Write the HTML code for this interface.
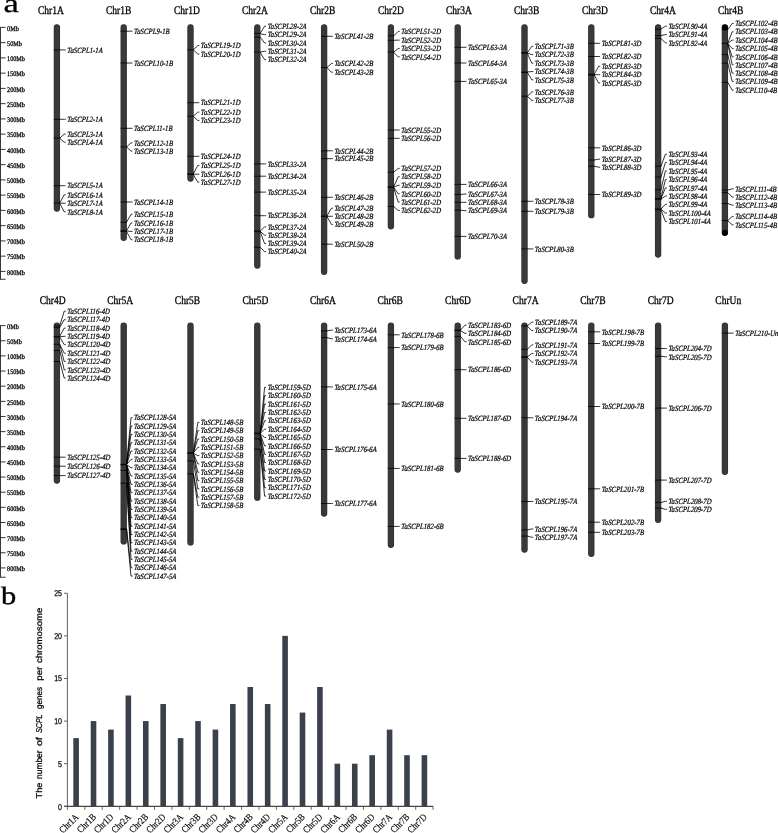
<!DOCTYPE html>
<html lang="en"><head><meta charset="utf-8"><title>Chromosomal distribution of TaSCPL genes</title>
<style>
html,body{margin:0;padding:0;background:#fff}
body{width:778px;height:833px;overflow:hidden}
svg{display:block}
text{font-family:"Liberation Serif","Times New Roman",serif;fill:#000;text-rendering:geometricPrecision}
.g{font-size:8px;font-style:italic;stroke:#000;stroke-width:0.22px}
.c{font-size:11.6px;stroke:#000;stroke-width:0.3px}
.m{font-size:7px;stroke:#000;stroke-width:0.28px}
.p{font-size:27px;stroke:#000;stroke-width:0.25px}
.s{font-family:"Liberation Sans",Arial,sans-serif}
.k{stroke:#000;stroke-width:0.8;fill:none}
.o{stroke:#2b2b2b;stroke-width:6.3px;stroke-linecap:round;fill:none}
.i{stroke:#3b3937;stroke-width:5.3px;stroke-linecap:round;fill:none}
.x{font-size:9.8px;stroke:#000;stroke-width:0.15px}
</style></head><body>
<svg width="778" height="833" viewBox="0 0 778 833">
<rect width="778" height="833" fill="#fff"/>
<text class="p" style="font-size:26px" transform="translate(3.5,12.3) scale(1.33,1)">a</text>
<text class="p" style="font-size:25px;stroke-width:0.4px" transform="translate(0.9,603.6) scale(1.22,1)">b</text>
<g stroke="#222" stroke-width="0.9" fill="none">
<path d="M0.5 27.4 V279.29"/>
<path d="M0 279.29 H5.6"/>
<path d="M0 27.4 H5.6 M0 42.65 H5.6 M0 57.9 H5.6 M0 73.15 H5.6 M0 88.4 H5.6 M0 103.65 H5.6 M0 118.9 H5.6 M0 134.15 H5.6 M0 149.4 H5.6 M0 164.65 H5.6 M0 179.9 H5.6 M0 195.15 H5.6 M0 210.4 H5.6 M0 225.65 H5.6 M0 240.9 H5.6 M0 256.15 H5.6 M0 271.4 H5.6"/>
</g>
<text class="m" transform="translate(7.1,30.65) scale(0.88,1)">0Mb</text>
<text class="m" transform="translate(7.1,45.9) scale(0.88,1)">50Mb</text>
<text class="m" transform="translate(7.1,61.15) scale(0.88,1)">100Mb</text>
<text class="m" transform="translate(7.1,76.4) scale(0.88,1)">150Mb</text>
<text class="m" transform="translate(7.1,91.65) scale(0.88,1)">200Mb</text>
<text class="m" transform="translate(7.1,106.9) scale(0.88,1)">250Mb</text>
<text class="m" transform="translate(7.1,122.15) scale(0.88,1)">300Mb</text>
<text class="m" transform="translate(7.1,137.4) scale(0.88,1)">350Mb</text>
<text class="m" transform="translate(7.1,152.65) scale(0.88,1)">400Mb</text>
<text class="m" transform="translate(7.1,167.9) scale(0.88,1)">450Mb</text>
<text class="m" transform="translate(7.1,183.15) scale(0.88,1)">500Mb</text>
<text class="m" transform="translate(7.1,198.4) scale(0.88,1)">550Mb</text>
<text class="m" transform="translate(7.1,213.65) scale(0.88,1)">600Mb</text>
<text class="m" transform="translate(7.1,228.9) scale(0.88,1)">650Mb</text>
<text class="m" transform="translate(7.1,244.15) scale(0.88,1)">700Mb</text>
<text class="m" transform="translate(7.1,259.4) scale(0.88,1)">750Mb</text>
<text class="m" transform="translate(7.1,274.65) scale(0.88,1)">800Mb</text>
<g stroke="#222" stroke-width="0.9" fill="none">
<path d="M0.5 325.6 V577.26"/>
<path d="M0 577.26 H5.6"/>
<path d="M0 325.6 H5.6 M0 340.75 H5.6 M0 355.89 H5.6 M0 371.04 H5.6 M0 386.18 H5.6 M0 401.33 H5.6 M0 416.47 H5.6 M0 431.62 H5.6 M0 446.76 H5.6 M0 461.91 H5.6 M0 477.05 H5.6 M0 492.2 H5.6 M0 507.34 H5.6 M0 522.49 H5.6 M0 537.63 H5.6 M0 552.78 H5.6 M0 567.92 H5.6"/>
</g>
<text class="m" transform="translate(7.1,328.85) scale(0.88,1)">0Mb</text>
<text class="m" transform="translate(7.1,344) scale(0.88,1)">50Mb</text>
<text class="m" transform="translate(7.1,359.14) scale(0.88,1)">100Mb</text>
<text class="m" transform="translate(7.1,374.29) scale(0.88,1)">150Mb</text>
<text class="m" transform="translate(7.1,389.43) scale(0.88,1)">200Mb</text>
<text class="m" transform="translate(7.1,404.58) scale(0.88,1)">250Mb</text>
<text class="m" transform="translate(7.1,419.72) scale(0.88,1)">300Mb</text>
<text class="m" transform="translate(7.1,434.87) scale(0.88,1)">350Mb</text>
<text class="m" transform="translate(7.1,450.01) scale(0.88,1)">400Mb</text>
<text class="m" transform="translate(7.1,465.16) scale(0.88,1)">450Mb</text>
<text class="m" transform="translate(7.1,480.3) scale(0.88,1)">500Mb</text>
<text class="m" transform="translate(7.1,495.45) scale(0.88,1)">550Mb</text>
<text class="m" transform="translate(7.1,510.59) scale(0.88,1)">600Mb</text>
<text class="m" transform="translate(7.1,525.74) scale(0.88,1)">650Mb</text>
<text class="m" transform="translate(7.1,540.88) scale(0.88,1)">700Mb</text>
<text class="m" transform="translate(7.1,556.03) scale(0.88,1)">750Mb</text>
<text class="m" transform="translate(7.1,571.17) scale(0.88,1)">800Mb</text>
<!-- Chr1A -->
<text class="c" transform="translate(37.9,13.6) scale(0.82,1)">Chr1A</text>
<path class="o" d="M56.9 27.4 V208.6"/><path class="i" d="M56.9 27.4 V208.6"/>
<path class="k" d="M53.75 49.9H60.05M59.75 49.9L64.2 49.9H65.7M53.75 119.3H60.05M59.75 119.3L64.2 119.3H65.7M53.75 138.1H60.05M59.75 138.1L64.2 134.1H65.7M59.75 138.2L64.2 142.3H65.7M53.75 185.7H60.05M59.75 185.7L64.2 185.7H65.7M53.75 203H60.05M59.75 203L64.2 194.8H65.7M59.75 203.2L64.2 203.2H65.7M59.75 203.4L64.2 211.8H65.7"/>
<text class="g" transform="translate(67,52.6) scale(0.85,1) skewX(-5)">TaSCPL1-1A</text>
<text class="g" transform="translate(67,122) scale(0.85,1) skewX(-5)">TaSCPL2-1A</text>
<text class="g" transform="translate(67,136.8) scale(0.85,1) skewX(-5)">TaSCPL3-1A</text>
<text class="g" transform="translate(67,145) scale(0.85,1) skewX(-5)">TaSCPL4-1A</text>
<text class="g" transform="translate(67,188.4) scale(0.85,1) skewX(-5)">TaSCPL5-1A</text>
<text class="g" transform="translate(67,197.5) scale(0.85,1) skewX(-5)">TaSCPL6-1A</text>
<text class="g" transform="translate(67,205.9) scale(0.85,1) skewX(-5)">TaSCPL7-1A</text>
<text class="g" transform="translate(67,214.5) scale(0.85,1) skewX(-5)">TaSCPL8-1A</text>
<!-- Chr1B -->
<text class="c" transform="translate(105.9,13.6) scale(0.82,1)">Chr1B</text>
<path class="o" d="M123.7 27.4 V237.82"/><path class="i" d="M123.7 27.4 V237.82"/>
<path class="k" d="M120.55 31.2H126.85M126.55 31.2L131 31.2H132.5M120.55 63H126.85M126.55 63L131 63H132.5M120.55 128.3H126.85M126.55 128.3L131 128.3H132.5M120.55 146.9H126.85M126.55 146.9L131 142.8H132.5M126.55 147L131 151.1H132.5M120.55 202H126.85M126.55 202L131 202H132.5M120.55 222.3H126.85M126.55 222.3L131 214.3H132.5M120.55 230.7H126.85M126.55 230.7L131 223H132.5M126.55 231L131 231.4H132.5M120.55 231.4H126.85M126.55 231.4L131 239.7H132.5"/>
<text class="g" transform="translate(133.8,33.9) scale(0.85,1) skewX(-5)">TaSCPL9-1B</text>
<text class="g" transform="translate(133.8,65.7) scale(0.85,1) skewX(-5)">TaSCPL10-1B</text>
<text class="g" transform="translate(133.8,131) scale(0.85,1) skewX(-5)">TaSCPL11-1B</text>
<text class="g" transform="translate(133.8,145.5) scale(0.85,1) skewX(-5)">TaSCPL12-1B</text>
<text class="g" transform="translate(133.8,153.8) scale(0.85,1) skewX(-5)">TaSCPL13-1B</text>
<text class="g" transform="translate(133.8,204.7) scale(0.85,1) skewX(-5)">TaSCPL14-1B</text>
<text class="g" transform="translate(133.8,217) scale(0.85,1) skewX(-5)">TaSCPL15-1B</text>
<text class="g" transform="translate(133.8,225.7) scale(0.85,1) skewX(-5)">TaSCPL16-1B</text>
<text class="g" transform="translate(133.8,234.1) scale(0.85,1) skewX(-5)">TaSCPL17-1B</text>
<text class="g" transform="translate(133.8,242.4) scale(0.85,1) skewX(-5)">TaSCPL18-1B</text>
<!-- Chr1D -->
<text class="c" transform="translate(173.9,13.6) scale(0.82,1)">Chr1D</text>
<path class="o" d="M190.5 27.4 V178.53"/><path class="i" d="M190.5 27.4 V178.53"/>
<path class="k" d="M187.35 49.8H193.65M193.35 49.8L197.8 45.6H199.3M193.35 49.9L197.8 54H199.3M187.35 102.7H193.65M193.35 102.7L197.8 102.7H199.3M187.35 116.3H193.65M193.35 116.3L197.8 112.1H199.3M193.35 116.4L197.8 120.5H199.3M187.35 156.3H193.65M193.35 156.3L197.8 156.3H199.3M187.35 173.9H193.65M193.35 173.9L197.8 165.4H199.3M193.35 174.2L197.8 174.2H199.3M187.35 174.5H193.65M193.35 174.5L197.8 182.2H199.3"/>
<text class="g" transform="translate(200.6,48.3) scale(0.85,1) skewX(-5)">TaSCPL19-1D</text>
<text class="g" transform="translate(200.6,56.7) scale(0.85,1) skewX(-5)">TaSCPL20-1D</text>
<text class="g" transform="translate(200.6,105.4) scale(0.85,1) skewX(-5)">TaSCPL21-1D</text>
<text class="g" transform="translate(200.6,114.8) scale(0.85,1) skewX(-5)">TaSCPL22-1D</text>
<text class="g" transform="translate(200.6,123.2) scale(0.85,1) skewX(-5)">TaSCPL23-1D</text>
<text class="g" transform="translate(200.6,159) scale(0.85,1) skewX(-5)">TaSCPL24-1D</text>
<text class="g" transform="translate(200.6,168.1) scale(0.85,1) skewX(-5)">TaSCPL25-1D</text>
<text class="g" transform="translate(200.6,176.9) scale(0.85,1) skewX(-5)">TaSCPL26-1D</text>
<text class="g" transform="translate(200.6,184.9) scale(0.85,1) skewX(-5)">TaSCPL27-1D</text>
<!-- Chr2A -->
<text class="c" transform="translate(241.9,13.6) scale(0.82,1)">Chr2A</text>
<path class="o" d="M257.3 27.4 V265.54"/><path class="i" d="M257.3 27.4 V265.54"/>
<path class="k" d="M254.15 33.4H260.45M260.15 33.4L264.6 26.2H266.1M260.15 33.8L264.6 34.6H266.1M254.15 37.1H260.45M260.15 37.1L264.6 42.9H266.1M254.15 52.1H260.45M260.15 52.1L264.6 51.3H266.1M260.15 52.5L264.6 59.6H266.1M254.15 163.9H260.45M260.15 163.9L264.6 163.9H266.1M254.15 176.2H260.45M260.15 176.2L264.6 176.2H266.1M254.15 192.1H260.45M260.15 192.1L264.6 192.1H266.1M254.15 215.7H260.45M260.15 215.7L264.6 215.7H266.1M254.15 231H260.45M260.15 231L264.6 226.9H266.1M260.15 231.4L264.6 235.2H266.1M254.15 231.7H260.45M260.15 231.7L264.6 243.6H266.1M254.15 247.3H260.45M260.15 247.3L264.6 251.6H266.1"/>
<text class="g" transform="translate(267.4,28.9) scale(0.85,1) skewX(-5)">TaSCPL28-2A</text>
<text class="g" transform="translate(267.4,37.3) scale(0.85,1) skewX(-5)">TaSCPL29-2A</text>
<text class="g" transform="translate(267.4,45.6) scale(0.85,1) skewX(-5)">TaSCPL30-2A</text>
<text class="g" transform="translate(267.4,54) scale(0.85,1) skewX(-5)">TaSCPL31-2A</text>
<text class="g" transform="translate(267.4,62.3) scale(0.85,1) skewX(-5)">TaSCPL32-2A</text>
<text class="g" transform="translate(267.4,166.6) scale(0.85,1) skewX(-5)">TaSCPL33-2A</text>
<text class="g" transform="translate(267.4,178.9) scale(0.85,1) skewX(-5)">TaSCPL34-2A</text>
<text class="g" transform="translate(267.4,194.8) scale(0.85,1) skewX(-5)">TaSCPL35-2A</text>
<text class="g" transform="translate(267.4,218.4) scale(0.85,1) skewX(-5)">TaSCPL36-2A</text>
<text class="g" transform="translate(267.4,229.6) scale(0.85,1) skewX(-5)">TaSCPL37-2A</text>
<text class="g" transform="translate(267.4,237.9) scale(0.85,1) skewX(-5)">TaSCPL38-2A</text>
<text class="g" transform="translate(267.4,246.3) scale(0.85,1) skewX(-5)">TaSCPL39-2A</text>
<text class="g" transform="translate(267.4,254.3) scale(0.85,1) skewX(-5)">TaSCPL40-2A</text>
<!-- Chr2B -->
<text class="c" transform="translate(309.9,13.6) scale(0.82,1)">Chr2B</text>
<path class="o" d="M324.1 27.4 V271.8"/><path class="i" d="M324.1 27.4 V271.8"/>
<path class="k" d="M320.95 36.3H327.25M326.95 36.3L331.4 36.3H332.9M320.95 67.5H327.25M326.95 67.5L331.4 63.5H332.9M326.95 67.6L331.4 72.2H332.9M320.95 150.8H327.25M326.95 150.8L331.4 150.8H332.9M320.95 158.7H327.25M326.95 158.7L331.4 158.7H332.9M320.95 197.3H327.25M326.95 197.3L331.4 197.3H332.9M320.95 216H327.25M326.95 216L331.4 208.2H332.9M326.95 216.3L331.4 216.3H332.9M320.95 216.5H327.25M326.95 216.5L331.4 224.4H332.9M320.95 244.2H327.25M326.95 244.2L331.4 244.2H332.9"/>
<text class="g" transform="translate(334.2,39) scale(0.85,1) skewX(-5)">TaSCPL41-2B</text>
<text class="g" transform="translate(334.2,66.2) scale(0.85,1) skewX(-5)">TaSCPL42-2B</text>
<text class="g" transform="translate(334.2,74.9) scale(0.85,1) skewX(-5)">TaSCPL43-2B</text>
<text class="g" transform="translate(334.2,153.5) scale(0.85,1) skewX(-5)">TaSCPL44-2B</text>
<text class="g" transform="translate(334.2,161.4) scale(0.85,1) skewX(-5)">TaSCPL45-2B</text>
<text class="g" transform="translate(334.2,200) scale(0.85,1) skewX(-5)">TaSCPL46-2B</text>
<text class="g" transform="translate(334.2,210.9) scale(0.85,1) skewX(-5)">TaSCPL47-2B</text>
<text class="g" transform="translate(334.2,219) scale(0.85,1) skewX(-5)">TaSCPL48-2B</text>
<text class="g" transform="translate(334.2,227.1) scale(0.85,1) skewX(-5)">TaSCPL49-2B</text>
<text class="g" transform="translate(334.2,246.9) scale(0.85,1) skewX(-5)">TaSCPL50-2B</text>
<!-- Chr2D -->
<text class="c" transform="translate(377.9,13.6) scale(0.82,1)">Chr2D</text>
<path class="o" d="M390.9 27.4 V226.23"/><path class="i" d="M390.9 27.4 V226.23"/>
<path class="k" d="M387.75 35.9H394.05M393.75 35.9L398.2 31.4H399.7M387.75 40.3H394.05M393.75 40.3L398.2 40.1H399.7M387.75 52.1H394.05M393.75 52.1L398.2 48.45H399.7M393.75 52.5L398.2 56.8H399.7M387.75 130H394.05M393.75 130L398.2 130H399.7M387.75 138.3H394.05M393.75 138.3L398.2 138.3H399.7M387.75 172.2H394.05M393.75 172.2L398.2 168.4H399.7M387.75 186.8H394.05M393.75 186.8L398.2 176.7H399.7M393.75 187.1L398.2 185.3H399.7M387.75 187.4H394.05M393.75 187.4L398.2 193.8H399.7M393.75 187.8L398.2 202.1H399.7M387.75 206.5H394.05M393.75 206.5L398.2 210.5H399.7"/>
<text class="g" transform="translate(401,34.1) scale(0.85,1) skewX(-5)">TaSCPL51-2D</text>
<text class="g" transform="translate(401,42.8) scale(0.85,1) skewX(-5)">TaSCPL52-2D</text>
<text class="g" transform="translate(401,51.15) scale(0.85,1) skewX(-5)">TaSCPL53-2D</text>
<text class="g" transform="translate(401,59.5) scale(0.85,1) skewX(-5)">TaSCPL54-2D</text>
<text class="g" transform="translate(401,132.7) scale(0.85,1) skewX(-5)">TaSCPL55-2D</text>
<text class="g" transform="translate(401,141) scale(0.85,1) skewX(-5)">TaSCPL56-2D</text>
<text class="g" transform="translate(401,171.1) scale(0.85,1) skewX(-5)">TaSCPL57-2D</text>
<text class="g" transform="translate(401,179.4) scale(0.85,1) skewX(-5)">TaSCPL58-2D</text>
<text class="g" transform="translate(401,188) scale(0.85,1) skewX(-5)">TaSCPL59-2D</text>
<text class="g" transform="translate(401,196.5) scale(0.85,1) skewX(-5)">TaSCPL60-2D</text>
<text class="g" transform="translate(401,204.8) scale(0.85,1) skewX(-5)">TaSCPL61-2D</text>
<text class="g" transform="translate(401,213.2) scale(0.85,1) skewX(-5)">TaSCPL62-2D</text>
<!-- Chr3A -->
<text class="c" transform="translate(445.9,13.6) scale(0.82,1)">Chr3A</text>
<path class="o" d="M457.7 27.4 V256.39"/><path class="i" d="M457.7 27.4 V256.39"/>
<path class="k" d="M454.55 47.3H460.85M460.55 47.3L465 47.3H466.5M454.55 63H460.85M460.55 63L465 63H466.5M454.55 81.4H460.85M460.55 81.4L465 81.4H466.5M454.55 184.4H460.85M460.55 184.4L465 184.4H466.5M454.55 194.5H460.85M460.55 194.5L465 194H466.5M454.55 202.3H460.85M460.55 202.3L465 202.3H466.5M454.55 210.2H460.85M460.55 210.2L465 210.7H466.5M454.55 236.4H460.85M460.55 236.4L465 236.4H466.5"/>
<text class="g" transform="translate(467.8,50) scale(0.85,1) skewX(-5)">TaSCPL63-3A</text>
<text class="g" transform="translate(467.8,65.7) scale(0.85,1) skewX(-5)">TaSCPL64-3A</text>
<text class="g" transform="translate(467.8,84.1) scale(0.85,1) skewX(-5)">TaSCPL65-3A</text>
<text class="g" transform="translate(467.8,187.1) scale(0.85,1) skewX(-5)">TaSCPL66-3A</text>
<text class="g" transform="translate(467.8,196.7) scale(0.85,1) skewX(-5)">TaSCPL67-3A</text>
<text class="g" transform="translate(467.8,205) scale(0.85,1) skewX(-5)">TaSCPL68-3A</text>
<text class="g" transform="translate(467.8,213.4) scale(0.85,1) skewX(-5)">TaSCPL69-3A</text>
<text class="g" transform="translate(467.8,239.1) scale(0.85,1) skewX(-5)">TaSCPL70-3A</text>
<!-- Chr3B -->
<text class="c" transform="translate(513.9,13.6) scale(0.82,1)">Chr3B</text>
<path class="o" d="M524.5 27.4 V280.79"/><path class="i" d="M524.5 27.4 V280.79"/>
<path class="k" d="M521.35 52.6H527.65M527.35 52.6L531.8 46.3H533.3M521.35 53.1H527.65M527.35 53.1L531.8 54.6H533.3M527.35 53.5L531.8 63.2H533.3M521.35 72H527.65M527.35 72L531.8 71.5H533.3M521.35 72.5H527.65M527.35 72.5L531.8 79.9H533.3M521.35 96.2H527.65M527.35 96.2L531.8 91.9H533.3M527.35 96.4L531.8 100.4H533.3M521.35 201.3H527.65M527.35 201.3L531.8 201.3H533.3M521.35 211.3H527.65M527.35 211.3L531.8 211.3H533.3M521.35 248.9H527.65M527.35 248.9L531.8 248.9H533.3"/>
<text class="g" transform="translate(534.6,49) scale(0.85,1) skewX(-5)">TaSCPL71-3B</text>
<text class="g" transform="translate(534.6,57.3) scale(0.85,1) skewX(-5)">TaSCPL72-3B</text>
<text class="g" transform="translate(534.6,65.9) scale(0.85,1) skewX(-5)">TaSCPL73-3B</text>
<text class="g" transform="translate(534.6,74.2) scale(0.85,1) skewX(-5)">TaSCPL74-3B</text>
<text class="g" transform="translate(534.6,82.6) scale(0.85,1) skewX(-5)">TaSCPL75-3B</text>
<text class="g" transform="translate(534.6,94.6) scale(0.85,1) skewX(-5)">TaSCPL76-3B</text>
<text class="g" transform="translate(534.6,103.1) scale(0.85,1) skewX(-5)">TaSCPL77-3B</text>
<text class="g" transform="translate(534.6,204) scale(0.85,1) skewX(-5)">TaSCPL78-3B</text>
<text class="g" transform="translate(534.6,214) scale(0.85,1) skewX(-5)">TaSCPL79-3B</text>
<text class="g" transform="translate(534.6,251.6) scale(0.85,1) skewX(-5)">TaSCPL80-3B</text>
<!-- Chr3D -->
<text class="c" transform="translate(581.9,13.6) scale(0.82,1)">Chr3D</text>
<path class="o" d="M591.3 27.4 V215.16"/><path class="i" d="M591.3 27.4 V215.16"/>
<path class="k" d="M588.15 43.3H594.45M594.15 43.3L598.6 43.3H600.1M588.15 56.5H594.45M594.15 56.5L598.6 56.5H600.1M588.15 74.35H594.45M594.15 74.35L598.6 66.3H600.1M594.15 74.7L598.6 74.7H600.1M588.15 75H594.45M594.15 75L598.6 83H600.1M588.15 147.8H594.45M594.15 147.8L598.6 147.8H600.1M588.15 160H594.45M594.15 160L598.6 159.2H600.1M588.15 166.2H594.45M594.15 166.2L598.6 167.2H600.1M588.15 194.5H594.45M594.15 194.5L598.6 194.5H600.1"/>
<text class="g" transform="translate(601.4,46) scale(0.85,1) skewX(-5)">TaSCPL81-3D</text>
<text class="g" transform="translate(601.4,59.2) scale(0.85,1) skewX(-5)">TaSCPL82-3D</text>
<text class="g" transform="translate(601.4,69) scale(0.85,1) skewX(-5)">TaSCPL83-3D</text>
<text class="g" transform="translate(601.4,77.4) scale(0.85,1) skewX(-5)">TaSCPL84-3D</text>
<text class="g" transform="translate(601.4,85.7) scale(0.85,1) skewX(-5)">TaSCPL85-3D</text>
<text class="g" transform="translate(601.4,150.5) scale(0.85,1) skewX(-5)">TaSCPL86-3D</text>
<text class="g" transform="translate(601.4,161.9) scale(0.85,1) skewX(-5)">TaSCPL87-3D</text>
<text class="g" transform="translate(601.4,169.9) scale(0.85,1) skewX(-5)">TaSCPL88-3D</text>
<text class="g" transform="translate(601.4,197.2) scale(0.85,1) skewX(-5)">TaSCPL89-3D</text>
<!-- Chr4A -->
<text class="c" transform="translate(649.9,13.6) scale(0.82,1)">Chr4A</text>
<path class="o" d="M658.1 27.4 V254.5"/><path class="i" d="M658.1 27.4 V254.5"/>
<path class="k" d="M654.95 29.2H661.25M660.95 29.2L665.4 26.2H666.9M654.95 35.6H661.25M660.95 35.6L665.4 34.6H666.9M654.95 38.4H661.25M660.95 38.4L665.4 42.9H666.9M654.95 166.2H661.25M660.95 166.2L665.4 154.2H666.9M654.95 177.1H661.25M660.95 177.1L665.4 162.5H666.9M654.95 189.8H661.25M660.95 189.8L665.4 170.9H666.9M654.95 198.5H661.25M660.95 198.5L665.4 179.6H666.9M660.95 198.8L665.4 187.9H666.9M654.95 199.3H661.25M660.95 199.3L665.4 196H666.9M654.95 209H661.25M660.95 209L665.4 204.3H666.9M660.95 209.3L665.4 213H666.9M654.95 209.7H661.25M660.95 209.7L665.4 221.5H666.9"/>
<text class="g" transform="translate(668.2,28.9) scale(0.85,1) skewX(-5)">TaSCPL90-4A</text>
<text class="g" transform="translate(668.2,37.3) scale(0.85,1) skewX(-5)">TaSCPL91-4A</text>
<text class="g" transform="translate(668.2,45.6) scale(0.85,1) skewX(-5)">TaSCPL92-4A</text>
<text class="g" transform="translate(668.2,156.9) scale(0.85,1) skewX(-5)">TaSCPL93-4A</text>
<text class="g" transform="translate(668.2,165.2) scale(0.85,1) skewX(-5)">TaSCPL94-4A</text>
<text class="g" transform="translate(668.2,173.6) scale(0.85,1) skewX(-5)">TaSCPL95-4A</text>
<text class="g" transform="translate(668.2,182.3) scale(0.85,1) skewX(-5)">TaSCPL96-4A</text>
<text class="g" transform="translate(668.2,190.6) scale(0.85,1) skewX(-5)">TaSCPL97-4A</text>
<text class="g" transform="translate(668.2,198.7) scale(0.85,1) skewX(-5)">TaSCPL98-4A</text>
<text class="g" transform="translate(668.2,207) scale(0.85,1) skewX(-5)">TaSCPL99-4A</text>
<text class="g" transform="translate(668.2,215.7) scale(0.85,1) skewX(-5)">TaSCPL100-4A</text>
<text class="g" transform="translate(668.2,224.2) scale(0.85,1) skewX(-5)">TaSCPL101-4A</text>
<!-- Chr4B -->
<text class="c" transform="translate(717.9,13.6) scale(0.82,1)">Chr4B</text>
<path class="o" d="M724.9 27.4 V232.85"/><path class="i" d="M724.9 27.4 V232.85"/>
<circle cx="724.9" cy="27.5" r="3.05" fill="#000"/>
<circle cx="724.9" cy="232.75" r="3.05" fill="#000"/>
<path class="k" d="M721.75 29.7H728.05M727.75 29.7L732.2 23.4H733.7M721.75 43.3H728.05M727.75 43.3L732.2 31.75H733.7M727.75 43.4L732.2 40.1H733.7M727.75 43.5L732.2 48.45H733.7M727.75 43.6L732.2 56.8H733.7M727.75 43.7L732.2 64.8H733.7M721.75 54.5H728.05M727.75 54.5L732.2 73.2H733.7M721.75 63.2H728.05M727.75 63.2L732.2 81.5H733.7M721.75 82.4H728.05M727.75 82.4L732.2 90.2H733.7M721.75 190.1H728.05M727.75 190.1L732.2 188.8H733.7M721.75 192.6H728.05M727.75 192.6L732.2 197.1H733.7M721.75 203.5H728.05M727.75 203.5L732.2 205.15H733.7M721.75 220.5H728.05M727.75 220.5L732.2 216.5H733.7M727.75 220.7L732.2 224.9H733.7"/>
<text class="g" transform="translate(735,26.1) scale(0.85,1) skewX(-5)">TaSCPL102-4B</text>
<text class="g" transform="translate(735,34.45) scale(0.85,1) skewX(-5)">TaSCPL103-4B</text>
<text class="g" transform="translate(735,42.8) scale(0.85,1) skewX(-5)">TaSCPL104-4B</text>
<text class="g" transform="translate(735,51.15) scale(0.85,1) skewX(-5)">TaSCPL105-4B</text>
<text class="g" transform="translate(735,59.5) scale(0.85,1) skewX(-5)">TaSCPL106-4B</text>
<text class="g" transform="translate(735,67.5) scale(0.85,1) skewX(-5)">TaSCPL107-4B</text>
<text class="g" transform="translate(735,75.9) scale(0.85,1) skewX(-5)">TaSCPL108-4B</text>
<text class="g" transform="translate(735,84.2) scale(0.85,1) skewX(-5)">TaSCPL109-4B</text>
<text class="g" transform="translate(735,92.9) scale(0.85,1) skewX(-5)">TaSCPL110-4B</text>
<text class="g" transform="translate(735,191.5) scale(0.85,1) skewX(-5)">TaSCPL111-4B</text>
<text class="g" transform="translate(735,199.8) scale(0.85,1) skewX(-5)">TaSCPL112-4B</text>
<text class="g" transform="translate(735,207.85) scale(0.85,1) skewX(-5)">TaSCPL113-4B</text>
<text class="g" transform="translate(735,219.2) scale(0.85,1) skewX(-5)">TaSCPL114-4B</text>
<text class="g" transform="translate(735,227.6) scale(0.85,1) skewX(-5)">TaSCPL115-4B</text>
<!-- Chr4D -->
<text class="c" transform="translate(39.7,303.5) scale(0.82,1)">Chr4D</text>
<path class="o" d="M56.9 325.6 V480.61"/><path class="i" d="M56.9 325.6 V480.61"/>
<path class="k" d="M53.75 325.9H60.05M59.75 325.9L64.2 311.2H65.7M53.75 327.6H60.05M59.75 327.6L64.2 319.7H65.7M53.75 336.4H60.05M59.75 336.4L64.2 328.1H65.7M59.75 336.8L64.2 336.3H65.7M53.75 337.1H60.05M59.75 337.1L64.2 344.6H65.7M53.75 344.3H60.05M59.75 344.3L64.2 353.2H65.7M59.75 344.6L64.2 361.5H65.7M53.75 350.5H60.05M59.75 350.5L64.2 369.9H65.7M53.75 361.5H60.05M59.75 361.5L64.2 378H65.7M53.75 457.2H60.05M59.75 457.2L64.2 457.2H65.7M53.75 466.2H60.05M59.75 466.2L64.2 466.2H65.7M53.75 475.6H60.05M59.75 475.6L64.2 475.6H65.7"/>
<text class="g" transform="translate(67,313.9) scale(0.85,1) skewX(-5)">TaSCPL116-4D</text>
<text class="g" transform="translate(67,322.4) scale(0.85,1) skewX(-5)">TaSCPL117-4D</text>
<text class="g" transform="translate(67,330.8) scale(0.85,1) skewX(-5)">TaSCPL118-4D</text>
<text class="g" transform="translate(67,339) scale(0.85,1) skewX(-5)">TaSCPL119-4D</text>
<text class="g" transform="translate(67,347.3) scale(0.85,1) skewX(-5)">TaSCPL120-4D</text>
<text class="g" transform="translate(67,355.9) scale(0.85,1) skewX(-5)">TaSCPL121-4D</text>
<text class="g" transform="translate(67,364.2) scale(0.85,1) skewX(-5)">TaSCPL122-4D</text>
<text class="g" transform="translate(67,372.6) scale(0.85,1) skewX(-5)">TaSCPL123-4D</text>
<text class="g" transform="translate(67,380.7) scale(0.85,1) skewX(-5)">TaSCPL124-4D</text>
<text class="g" transform="translate(67,459.9) scale(0.85,1) skewX(-5)">TaSCPL125-4D</text>
<text class="g" transform="translate(67,468.9) scale(0.85,1) skewX(-5)">TaSCPL126-4D</text>
<text class="g" transform="translate(67,478.3) scale(0.85,1) skewX(-5)">TaSCPL127-4D</text>
<!-- Chr5A -->
<text class="c" transform="translate(107.26,303.5) scale(0.82,1)">Chr5A</text>
<path class="o" d="M123.7 325.6 V541.38"/><path class="i" d="M123.7 325.6 V541.38"/>
<path class="k" d="M120.55 464.3H126.85M126.55 464.3L131 417.7H132.5M126.55 464.36L131 426.04H132.5M126.55 464.41L131 434.37H132.5M126.55 464.47L131 442.71H132.5M126.55 464.52L131 451.05H132.5M126.55 464.57L131 459.38H132.5M126.55 464.63L131 467.72H132.5M126.55 464.69L131 476.06H132.5M126.55 464.74L131 484.4H132.5M120.55 464.8H126.85M126.55 464.8L131 492.73H132.5M126.55 464.85L131 501.07H132.5M126.55 464.91L131 509.41H132.5M126.55 464.96L131 517.74H132.5M126.55 465.01L131 526.08H132.5M120.55 470.3H126.85M126.55 470.3L131 534.42H132.5M126.55 470.5L131 542.75H132.5M120.55 483.2H126.85M126.55 483.2L131 551.09H132.5M126.55 483.4L131 559.43H132.5M120.55 528.8H126.85M126.55 528.8L131 567.77H132.5M120.55 529.5H126.85M126.55 529.5L131 576.1H132.5"/>
<text class="g" transform="translate(133.8,420.4) scale(0.85,1) skewX(-5)">TaSCPL128-5A</text>
<text class="g" transform="translate(133.8,428.74) scale(0.85,1) skewX(-5)">TaSCPL129-5A</text>
<text class="g" transform="translate(133.8,437.07) scale(0.85,1) skewX(-5)">TaSCPL130-5A</text>
<text class="g" transform="translate(133.8,445.41) scale(0.85,1) skewX(-5)">TaSCPL131-5A</text>
<text class="g" transform="translate(133.8,453.75) scale(0.85,1) skewX(-5)">TaSCPL132-5A</text>
<text class="g" transform="translate(133.8,462.08) scale(0.85,1) skewX(-5)">TaSCPL133-5A</text>
<text class="g" transform="translate(133.8,470.42) scale(0.85,1) skewX(-5)">TaSCPL134-5A</text>
<text class="g" transform="translate(133.8,478.76) scale(0.85,1) skewX(-5)">TaSCPL135-5A</text>
<text class="g" transform="translate(133.8,487.1) scale(0.85,1) skewX(-5)">TaSCPL136-5A</text>
<text class="g" transform="translate(133.8,495.43) scale(0.85,1) skewX(-5)">TaSCPL137-5A</text>
<text class="g" transform="translate(133.8,503.77) scale(0.85,1) skewX(-5)">TaSCPL138-5A</text>
<text class="g" transform="translate(133.8,512.11) scale(0.85,1) skewX(-5)">TaSCPL139-5A</text>
<text class="g" transform="translate(133.8,520.44) scale(0.85,1) skewX(-5)">TaSCPL140-5A</text>
<text class="g" transform="translate(133.8,528.78) scale(0.85,1) skewX(-5)">TaSCPL141-5A</text>
<text class="g" transform="translate(133.8,537.12) scale(0.85,1) skewX(-5)">TaSCPL142-5A</text>
<text class="g" transform="translate(133.8,545.46) scale(0.85,1) skewX(-5)">TaSCPL143-5A</text>
<text class="g" transform="translate(133.8,553.79) scale(0.85,1) skewX(-5)">TaSCPL144-5A</text>
<text class="g" transform="translate(133.8,562.13) scale(0.85,1) skewX(-5)">TaSCPL145-5A</text>
<text class="g" transform="translate(133.8,570.47) scale(0.85,1) skewX(-5)">TaSCPL146-5A</text>
<text class="g" transform="translate(133.8,578.8) scale(0.85,1) skewX(-5)">TaSCPL147-5A</text>
<!-- Chr5B -->
<text class="c" transform="translate(174.82,303.5) scale(0.82,1)">Chr5B</text>
<path class="o" d="M190.5 325.6 V542.38"/><path class="i" d="M190.5 325.6 V542.38"/>
<path class="k" d="M187.35 452.8H193.65M193.35 452.8L197.8 422.4H199.3M193.35 452.9L197.8 430.71H199.3M193.35 453L197.8 439.02H199.3M193.35 453.1L197.8 447.33H199.3M193.35 453.2L197.8 455.64H199.3M187.35 453.3H193.65M193.35 453.3L197.8 463.95H199.3M193.35 453.4L197.8 472.26H199.3M193.35 453.5L197.8 480.57H199.3M187.35 460.9H193.65M193.35 460.9L197.8 488.88H199.3M187.35 473.8H193.65M193.35 473.8L197.8 497.19H199.3M193.35 474L197.8 505.5H199.3"/>
<text class="g" transform="translate(200.6,425.1) scale(0.85,1) skewX(-5)">TaSCPL148-5B</text>
<text class="g" transform="translate(200.6,433.41) scale(0.85,1) skewX(-5)">TaSCPL149-5B</text>
<text class="g" transform="translate(200.6,441.72) scale(0.85,1) skewX(-5)">TaSCPL150-5B</text>
<text class="g" transform="translate(200.6,450.03) scale(0.85,1) skewX(-5)">TaSCPL151-5B</text>
<text class="g" transform="translate(200.6,458.34) scale(0.85,1) skewX(-5)">TaSCPL152-5B</text>
<text class="g" transform="translate(200.6,466.65) scale(0.85,1) skewX(-5)">TaSCPL153-5B</text>
<text class="g" transform="translate(200.6,474.96) scale(0.85,1) skewX(-5)">TaSCPL154-5B</text>
<text class="g" transform="translate(200.6,483.27) scale(0.85,1) skewX(-5)">TaSCPL155-5B</text>
<text class="g" transform="translate(200.6,491.58) scale(0.85,1) skewX(-5)">TaSCPL156-5B</text>
<text class="g" transform="translate(200.6,499.89) scale(0.85,1) skewX(-5)">TaSCPL157-5B</text>
<text class="g" transform="translate(200.6,508.2) scale(0.85,1) skewX(-5)">TaSCPL158-5B</text>
<!-- Chr5D -->
<text class="c" transform="translate(242.38,303.5) scale(0.82,1)">Chr5D</text>
<path class="o" d="M257.3 325.6 V497.69"/><path class="i" d="M257.3 325.6 V497.69"/>
<path class="k" d="M254.15 433.2H260.45M260.15 433.2L264.6 387.3H266.1M260.15 433.3L264.6 395.67H266.1M260.15 433.4L264.6 404.04H266.1M260.15 433.5L264.6 412.41H266.1M260.15 433.6L264.6 420.78H266.1M254.15 433.7H260.45M260.15 433.7L264.6 429.15H266.1M260.15 433.8L264.6 437.52H266.1M260.15 433.9L264.6 445.89H266.1M260.15 434L264.6 454.26H266.1M260.15 434.1L264.6 462.63H266.1M254.15 438.9H260.45M260.15 438.9L264.6 471H266.1M260.15 439L264.6 479.37H266.1M254.15 449.2H260.45M260.15 449.2L264.6 487.74H266.1M260.15 449.4L264.6 496.11H266.1"/>
<text class="g" transform="translate(267.4,390) scale(0.85,1) skewX(-5)">TaSCPL159-5D</text>
<text class="g" transform="translate(267.4,398.37) scale(0.85,1) skewX(-5)">TaSCPL160-5D</text>
<text class="g" transform="translate(267.4,406.74) scale(0.85,1) skewX(-5)">TaSCPL161-5D</text>
<text class="g" transform="translate(267.4,415.11) scale(0.85,1) skewX(-5)">TaSCPL162-5D</text>
<text class="g" transform="translate(267.4,423.48) scale(0.85,1) skewX(-5)">TaSCPL163-5D</text>
<text class="g" transform="translate(267.4,431.85) scale(0.85,1) skewX(-5)">TaSCPL164-5D</text>
<text class="g" transform="translate(267.4,440.22) scale(0.85,1) skewX(-5)">TaSCPL165-5D</text>
<text class="g" transform="translate(267.4,448.59) scale(0.85,1) skewX(-5)">TaSCPL166-5D</text>
<text class="g" transform="translate(267.4,456.96) scale(0.85,1) skewX(-5)">TaSCPL167-5D</text>
<text class="g" transform="translate(267.4,465.33) scale(0.85,1) skewX(-5)">TaSCPL168-5D</text>
<text class="g" transform="translate(267.4,473.7) scale(0.85,1) skewX(-5)">TaSCPL169-5D</text>
<text class="g" transform="translate(267.4,482.07) scale(0.85,1) skewX(-5)">TaSCPL170-5D</text>
<text class="g" transform="translate(267.4,490.44) scale(0.85,1) skewX(-5)">TaSCPL171-5D</text>
<text class="g" transform="translate(267.4,498.81) scale(0.85,1) skewX(-5)">TaSCPL172-5D</text>
<!-- Chr6A -->
<text class="c" transform="translate(309.94,303.5) scale(0.82,1)">Chr6A</text>
<path class="o" d="M324.1 325.6 V513.5"/><path class="i" d="M324.1 325.6 V513.5"/>
<path class="k" d="M320.95 330.9H327.25M326.95 330.9L331.4 330.1H332.9M320.95 337.6H327.25M326.95 337.6L331.4 338.8H332.9M320.95 386.9H327.25M326.95 386.9L331.4 386.9H332.9M320.95 449.5H327.25M326.95 449.5L331.4 449.5H332.9M320.95 503.5H327.25M326.95 503.5L331.4 503.5H332.9"/>
<text class="g" transform="translate(334.2,332.8) scale(0.85,1) skewX(-5)">TaSCPL173-6A</text>
<text class="g" transform="translate(334.2,341.5) scale(0.85,1) skewX(-5)">TaSCPL174-6A</text>
<text class="g" transform="translate(334.2,389.6) scale(0.85,1) skewX(-5)">TaSCPL175-6A</text>
<text class="g" transform="translate(334.2,452.2) scale(0.85,1) skewX(-5)">TaSCPL176-6A</text>
<text class="g" transform="translate(334.2,506.2) scale(0.85,1) skewX(-5)">TaSCPL177-6A</text>
<!-- Chr6B -->
<text class="c" transform="translate(377.5,303.5) scale(0.82,1)">Chr6B</text>
<path class="o" d="M390.9 325.6 V544.78"/><path class="i" d="M390.9 325.6 V544.78"/>
<path class="k" d="M387.75 334.8H394.05M393.75 334.8L398.2 334.8H399.7M387.75 347.6H394.05M393.75 347.6L398.2 347.6H399.7M387.75 403.95H394.05M393.75 403.95L398.2 403.95H399.7M387.75 468.4H394.05M393.75 468.4L398.2 468.4H399.7M387.75 526.4H394.05M393.75 526.4L398.2 526.4H399.7"/>
<text class="g" transform="translate(401,337.5) scale(0.85,1) skewX(-5)">TaSCPL178-6B</text>
<text class="g" transform="translate(401,350.3) scale(0.85,1) skewX(-5)">TaSCPL179-6B</text>
<text class="g" transform="translate(401,406.65) scale(0.85,1) skewX(-5)">TaSCPL180-6B</text>
<text class="g" transform="translate(401,471.1) scale(0.85,1) skewX(-5)">TaSCPL181-6B</text>
<text class="g" transform="translate(401,529.1) scale(0.85,1) skewX(-5)">TaSCPL182-6B</text>
<!-- Chr6D -->
<text class="c" transform="translate(445.06,303.5) scale(0.82,1)">Chr6D</text>
<path class="o" d="M457.7 325.6 V469.57"/><path class="i" d="M457.7 325.6 V469.57"/>
<path class="k" d="M454.55 330.1H460.85M460.55 330.1L465 325.1H466.5M454.55 330.6H460.85M460.55 330.6L465 333.4H466.5M454.55 336.4H460.85M460.55 336.4L465 341.8H466.5M454.55 369.7H460.85M460.55 369.7L465 369.7H466.5M454.55 418.3H460.85M460.55 418.3L465 418.3H466.5M454.55 458.4H460.85M460.55 458.4L465 458.4H466.5"/>
<text class="g" transform="translate(467.8,327.8) scale(0.85,1) skewX(-5)">TaSCPL183-6D</text>
<text class="g" transform="translate(467.8,336.1) scale(0.85,1) skewX(-5)">TaSCPL184-6D</text>
<text class="g" transform="translate(467.8,344.5) scale(0.85,1) skewX(-5)">TaSCPL185-6D</text>
<text class="g" transform="translate(467.8,372.4) scale(0.85,1) skewX(-5)">TaSCPL186-6D</text>
<text class="g" transform="translate(467.8,421) scale(0.85,1) skewX(-5)">TaSCPL187-6D</text>
<text class="g" transform="translate(467.8,461.1) scale(0.85,1) skewX(-5)">TaSCPL188-6D</text>
<!-- Chr7A -->
<text class="c" transform="translate(512.62,303.5) scale(0.82,1)">Chr7A</text>
<path class="o" d="M524.5 325.6 V549.56"/><path class="i" d="M524.5 325.6 V549.56"/>
<path class="k" d="M521.35 325.9H527.65M527.35 325.9L531.8 322.2H533.3M527.35 326.3L531.8 330.6H533.3M521.35 349.3H527.65M527.35 349.3L531.8 344.8H533.3M521.35 356.8H527.65M527.35 356.8L531.8 353.5H533.3M521.35 357.3H527.65M527.35 357.3L531.8 362.2H533.3M521.35 417.8H527.65M527.35 417.8L531.8 417.8H533.3M521.35 501.5H527.65M527.35 501.5L531.8 501.5H533.3M521.35 529.9H527.65M527.35 529.9L531.8 528.9H533.3M521.35 536.1H527.65M527.35 536.1L531.8 537.3H533.3"/>
<text class="g" transform="translate(534.6,324.9) scale(0.85,1) skewX(-5)">TaSCPL189-7A</text>
<text class="g" transform="translate(534.6,333.3) scale(0.85,1) skewX(-5)">TaSCPL190-7A</text>
<text class="g" transform="translate(534.6,347.5) scale(0.85,1) skewX(-5)">TaSCPL191-7A</text>
<text class="g" transform="translate(534.6,356.2) scale(0.85,1) skewX(-5)">TaSCPL192-7A</text>
<text class="g" transform="translate(534.6,364.9) scale(0.85,1) skewX(-5)">TaSCPL193-7A</text>
<text class="g" transform="translate(534.6,420.5) scale(0.85,1) skewX(-5)">TaSCPL194-7A</text>
<text class="g" transform="translate(534.6,504.2) scale(0.85,1) skewX(-5)">TaSCPL195-7A</text>
<text class="g" transform="translate(534.6,531.6) scale(0.85,1) skewX(-5)">TaSCPL196-7A</text>
<text class="g" transform="translate(534.6,540) scale(0.85,1) skewX(-5)">TaSCPL197-7A</text>
<!-- Chr7B -->
<text class="c" transform="translate(580.18,303.5) scale(0.82,1)">Chr7B</text>
<path class="o" d="M591.3 325.6 V553.78"/><path class="i" d="M591.3 325.6 V553.78"/>
<path class="k" d="M588.15 331.8H594.45M594.15 331.8L598.6 331.8H600.1M588.15 343.5H594.45M594.15 343.5L598.6 343.5H600.1M588.15 406.5H594.45M594.15 406.5L598.6 406.5H600.1M588.15 488.8H594.45M594.15 488.8L598.6 488.8H600.1M588.15 522.2H594.45M594.15 522.2L598.6 522.2H600.1M588.15 532.3H594.45M594.15 532.3L598.6 532.3H600.1"/>
<text class="g" transform="translate(601.4,334.5) scale(0.85,1) skewX(-5)">TaSCPL198-7B</text>
<text class="g" transform="translate(601.4,346.2) scale(0.85,1) skewX(-5)">TaSCPL199-7B</text>
<text class="g" transform="translate(601.4,409.2) scale(0.85,1) skewX(-5)">TaSCPL200-7B</text>
<text class="g" transform="translate(601.4,491.5) scale(0.85,1) skewX(-5)">TaSCPL201-7B</text>
<text class="g" transform="translate(601.4,524.9) scale(0.85,1) skewX(-5)">TaSCPL202-7B</text>
<text class="g" transform="translate(601.4,535) scale(0.85,1) skewX(-5)">TaSCPL203-7B</text>
<!-- Chr7D -->
<text class="c" transform="translate(647.74,303.5) scale(0.82,1)">Chr7D</text>
<path class="o" d="M658.1 325.6 V519.76"/><path class="i" d="M658.1 325.6 V519.76"/>
<path class="k" d="M654.95 348.5H661.25M660.95 348.5L665.4 348.5H666.9M654.95 356.3H661.25M660.95 356.3L665.4 356.8H666.9M654.95 408.1H661.25M660.95 408.1L665.4 408.1H666.9M654.95 480.1H661.25M660.95 480.1L665.4 480.1H666.9M654.95 502.5H661.25M660.95 502.5L665.4 501.3H666.9M654.95 508H661.25M660.95 508L665.4 509.4H666.9"/>
<text class="g" transform="translate(668.2,351.2) scale(0.85,1) skewX(-5)">TaSCPL204-7D</text>
<text class="g" transform="translate(668.2,359.5) scale(0.85,1) skewX(-5)">TaSCPL205-7D</text>
<text class="g" transform="translate(668.2,410.8) scale(0.85,1) skewX(-5)">TaSCPL206-7D</text>
<text class="g" transform="translate(668.2,482.8) scale(0.85,1) skewX(-5)">TaSCPL207-7D</text>
<text class="g" transform="translate(668.2,504) scale(0.85,1) skewX(-5)">TaSCPL208-7D</text>
<text class="g" transform="translate(668.2,512.1) scale(0.85,1) skewX(-5)">TaSCPL209-7D</text>
<!-- ChrUn -->
<text class="c" transform="translate(715.3,303.5) scale(0.82,1)">ChrUn</text>
<path class="o" d="M724.9 325.6 V471.82"/><path class="i" d="M724.9 325.6 V471.82"/>
<path class="k" d="M721.75 333.1H728.05M727.75 333.1L732.2 333.1H733.7"/>
<text class="g" transform="translate(735,335.8) scale(0.85,1) skewX(-5)">TaSCPL210-Un</text>
<!-- bar chart -->
<rect x="73.31" y="738.12" width="5.6" height="68.18" fill="#3b414c"/>
<rect x="90.72" y="721.08" width="5.6" height="85.22" fill="#3b414c"/>
<rect x="108.14" y="729.6" width="5.6" height="76.7" fill="#3b414c"/>
<rect x="125.55" y="695.51" width="5.6" height="110.79" fill="#3b414c"/>
<rect x="142.97" y="721.08" width="5.6" height="85.22" fill="#3b414c"/>
<rect x="160.38" y="704.04" width="5.6" height="102.26" fill="#3b414c"/>
<rect x="177.8" y="738.12" width="5.6" height="68.18" fill="#3b414c"/>
<rect x="195.21" y="721.08" width="5.6" height="85.22" fill="#3b414c"/>
<rect x="212.63" y="729.6" width="5.6" height="76.7" fill="#3b414c"/>
<rect x="230.04" y="704.04" width="5.6" height="102.26" fill="#3b414c"/>
<rect x="247.46" y="686.99" width="5.6" height="119.31" fill="#3b414c"/>
<rect x="264.87" y="704.04" width="5.6" height="102.26" fill="#3b414c"/>
<rect x="282.29" y="635.86" width="5.6" height="170.44" fill="#3b414c"/>
<rect x="299.7" y="712.56" width="5.6" height="93.74" fill="#3b414c"/>
<rect x="317.12" y="686.99" width="5.6" height="119.31" fill="#3b414c"/>
<rect x="334.53" y="763.69" width="5.6" height="42.61" fill="#3b414c"/>
<rect x="351.95" y="763.69" width="5.6" height="42.61" fill="#3b414c"/>
<rect x="369.36" y="755.17" width="5.6" height="51.13" fill="#3b414c"/>
<rect x="386.78" y="729.6" width="5.6" height="76.7" fill="#3b414c"/>
<rect x="404.19" y="755.17" width="5.6" height="51.13" fill="#3b414c"/>
<rect x="421.61" y="755.17" width="5.6" height="51.13" fill="#3b414c"/>
<g stroke="#5a5a5a" stroke-width="0.95" fill="none">
<path d="M67.4 593.25 V806.3"/>
<path stroke="#444" stroke-width="1.15" d="M64 806.3 H433.12"/>
<path d="M64 806.3 H67.4 M64 763.69 H67.4 M64 721.08 H67.4 M64 678.47 H67.4 M64 635.86 H67.4 M64 593.25 H67.4 M67.4 806.3 V809.8 M84.81 806.3 V809.8 M102.23 806.3 V809.8 M119.65 806.3 V809.8 M137.06 806.3 V809.8 M154.47 806.3 V809.8 M171.89 806.3 V809.8 M189.31 806.3 V809.8 M206.72 806.3 V809.8 M224.13 806.3 V809.8 M241.55 806.3 V809.8 M258.97 806.3 V809.8 M276.38 806.3 V809.8 M293.79 806.3 V809.8 M311.21 806.3 V809.8 M328.62 806.3 V809.8 M346.04 806.3 V809.8 M363.46 806.3 V809.8 M380.87 806.3 V809.8 M398.28 806.3 V809.8 M415.7 806.3 V809.8 M433.12 806.3 V809.8"/>
</g>
<text class="s" font-size="8.4" text-anchor="end" stroke="#000" stroke-width="0.25" transform="translate(62,809.6) scale(0.84,1)">0</text>
<text class="s" font-size="8.4" text-anchor="end" stroke="#000" stroke-width="0.25" transform="translate(62,766.89) scale(0.84,1)">5</text>
<text class="s" font-size="8.4" text-anchor="end" stroke="#000" stroke-width="0.25" transform="translate(62,724.18) scale(0.84,1)">10</text>
<text class="s" font-size="8.4" text-anchor="end" stroke="#000" stroke-width="0.25" transform="translate(62,681.47) scale(0.84,1)">15</text>
<text class="s" font-size="8.4" text-anchor="end" stroke="#000" stroke-width="0.25" transform="translate(62,638.76) scale(0.84,1)">20</text>
<text class="s" font-size="8.4" text-anchor="end" stroke="#000" stroke-width="0.25" transform="translate(62,596.05) scale(0.84,1)">25</text>
<text class="x" text-anchor="end" transform="translate(79.21,817.6) rotate(-45) scale(0.86,1)">Chr1A</text>
<text class="x" text-anchor="end" transform="translate(96.62,817.6) rotate(-45) scale(0.86,1)">Chr1B</text>
<text class="x" text-anchor="end" transform="translate(114.04,817.6) rotate(-45) scale(0.86,1)">Chr1D</text>
<text class="x" text-anchor="end" transform="translate(131.45,817.6) rotate(-45) scale(0.86,1)">Chr2A</text>
<text class="x" text-anchor="end" transform="translate(148.87,817.6) rotate(-45) scale(0.86,1)">Chr2B</text>
<text class="x" text-anchor="end" transform="translate(166.28,817.6) rotate(-45) scale(0.86,1)">Chr2D</text>
<text class="x" text-anchor="end" transform="translate(183.7,817.6) rotate(-45) scale(0.86,1)">Chr3A</text>
<text class="x" text-anchor="end" transform="translate(201.11,817.6) rotate(-45) scale(0.86,1)">Chr3B</text>
<text class="x" text-anchor="end" transform="translate(218.53,817.6) rotate(-45) scale(0.86,1)">Chr3D</text>
<text class="x" text-anchor="end" transform="translate(235.94,817.6) rotate(-45) scale(0.86,1)">Chr4A</text>
<text class="x" text-anchor="end" transform="translate(253.36,817.6) rotate(-45) scale(0.86,1)">Chr4B</text>
<text class="x" text-anchor="end" transform="translate(270.77,817.6) rotate(-45) scale(0.86,1)">Chr4D</text>
<text class="x" text-anchor="end" transform="translate(288.19,817.6) rotate(-45) scale(0.86,1)">Chr5A</text>
<text class="x" text-anchor="end" transform="translate(305.6,817.6) rotate(-45) scale(0.86,1)">Chr5B</text>
<text class="x" text-anchor="end" transform="translate(323.02,817.6) rotate(-45) scale(0.86,1)">Chr5D</text>
<text class="x" text-anchor="end" transform="translate(340.43,817.6) rotate(-45) scale(0.86,1)">Chr6A</text>
<text class="x" text-anchor="end" transform="translate(357.85,817.6) rotate(-45) scale(0.86,1)">Chr6B</text>
<text class="x" text-anchor="end" transform="translate(375.26,817.6) rotate(-45) scale(0.86,1)">Chr6D</text>
<text class="x" text-anchor="end" transform="translate(392.68,817.6) rotate(-45) scale(0.86,1)">Chr7A</text>
<text class="x" text-anchor="end" transform="translate(410.09,817.6) rotate(-45) scale(0.86,1)">Chr7B</text>
<text class="x" text-anchor="end" transform="translate(427.51,817.6) rotate(-45) scale(0.86,1)">Chr7D</text>
<text class="s" font-size="8.5" stroke="#000" stroke-width="0.28" transform="translate(42,798.4) rotate(-90) scale(1.079,1)">The</text>
<text class="s" font-size="8.5" stroke="#000" stroke-width="0.28" transform="translate(42,778.9) rotate(-90) scale(0.986,1)">number</text>
<text class="s" font-size="8.5" stroke="#000" stroke-width="0.28" transform="translate(42,746.1) rotate(-90) scale(1.256,1)">of</text>
<text class="s" font-size="8.5" stroke="#000" stroke-width="0.28" font-style="italic" transform="translate(42,732.8) rotate(-90) scale(0.824,1)">SCPL</text>
<text class="s" font-size="8.5" stroke="#000" stroke-width="0.28" transform="translate(42,708.9) rotate(-90) scale(0.946,1)">genes</text>
<text class="s" font-size="8.5" stroke="#000" stroke-width="0.28" transform="translate(42,680.7) rotate(-90) scale(1.132,1)">per</text>
<text class="s" font-size="8.5" stroke="#000" stroke-width="0.28" transform="translate(42,663.05) rotate(-90) scale(1.129,1)">chromosome</text>
</svg>
</body></html>
